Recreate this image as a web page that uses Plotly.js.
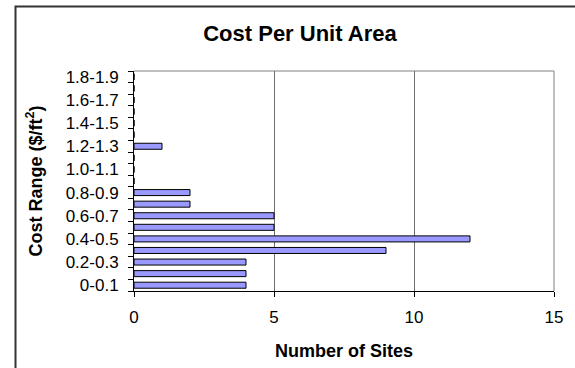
<!DOCTYPE html>
<html>
<head>
<meta charset="utf-8">
<script src="https://cdn.plot.ly/plotly-3.0.1.min.js"></script>
<style>html,body{margin:0;padding:0;background:#fff;}#chart{width:575px;height:368px;}</style>
</head>
<body>
<div id="chart"></div>
<script>
const categories = ["0-0.1","0.1-0.2","0.2-0.3","0.3-0.4","0.4-0.5","0.5-0.6","0.6-0.7","0.7-0.8","0.8-0.9","0.9-1.0","1.0-1.1","1.1-1.2","1.2-1.3","1.3-1.4","1.4-1.5","1.5-1.6","1.6-1.7","1.7-1.8","1.8-1.9"];
const sites = [4,4,4,9,12,5,5,2,2,0,0,0,1,0,0,0,0,0,0];
const tickLabels = categories.map((c,i) => i % 2 === 0 ? c : "");
const xTicks = [0,5,10,15];

const L = 134, R = 554, T = 71, B = 291, W = 575, H = 368;
const fx = px => (px - L) / (R - L);
const fy = py => (B - py) / (B - T);

const trace = {
  type: 'bar', orientation: 'h',
  y: categories, x: sites,
  marker: {color: '#9999FF', line: {color: '#000000', width: 1}},
  hoverinfo: 'x+y'
};

const font = "Liberation Sans, Arial, sans-serif";
const layout = {
  width: W, height: H,
  margin: {l: L, r: W - R, t: T, b: H - B},
  paper_bgcolor: '#ffffff', plot_bgcolor: '#ffffff',
  font: {family: font, color: '#000', size: 17},
  showlegend: false,
  bargap: 0.48,
  title: {text: '<b>Cost Per Unit Area</b>', font: {size: 22, family: font},
          xref: 'container', yref: 'container', x: 300 / W, y: 1 - 33 / H, xanchor: 'center', yanchor: 'middle'},
  xaxis: {
    range: [0, 15], tickvals: xTicks, ticktext: xTicks.map(String),
    showgrid: true, gridcolor: '#6e6e6e', gridwidth: 1, zeroline: false,
    showline: true, linecolor: '#000', linewidth: 1,
    ticks: 'outside', ticklen: 5, tickcolor: '#000',
    tickfont: {size: 17}, ticklabelstandoff: 6, fixedrange: true,
    title: {text: '<b>Number of Sites</b>', font: {size: 18}, standoff: 17}
  },
  yaxis: {
    type: 'category', tickmode: 'array', tickvals: categories, ticktext: tickLabels,
    tickson: 'boundaries', ticks: 'outside', ticklen: 5, tickcolor: '#000',
    showgrid: false, zeroline: false,
    showline: true, linecolor: '#000', linewidth: 1,
    tickfont: {size: 17}, ticklabelstandoff: 11, fixedrange: true,
    title: {text: '<b>Cost Range ($/ft<sup>2</sup>)</b>', font: {size: 18}, standoff: 18}
  },
  shapes: [
    {type: 'line', xref: 'paper', yref: 'paper', x0: 0, x1: 1, y0: 1, y1: 1, line: {color: '#808080', width: 1}, layer: 'below'},
    {type: 'line', xref: 'paper', yref: 'paper', x0: 1, x1: 1, y0: 0, y1: 1, line: {color: '#808080', width: 1}, layer: 'below'},
    {type: 'rect', xref: 'paper', yref: 'paper', x0: fx(15.5), x1: fx(700), y0: fy(700), y1: fy(6.5), line: {color: '#333333', width: 2}, fillcolor: 'rgba(0,0,0,0)'}
  ]
};

Plotly.newPlot('chart', [trace], layout, {displayModeBar: false, staticPlot: true});
</script>
</body>
</html>
